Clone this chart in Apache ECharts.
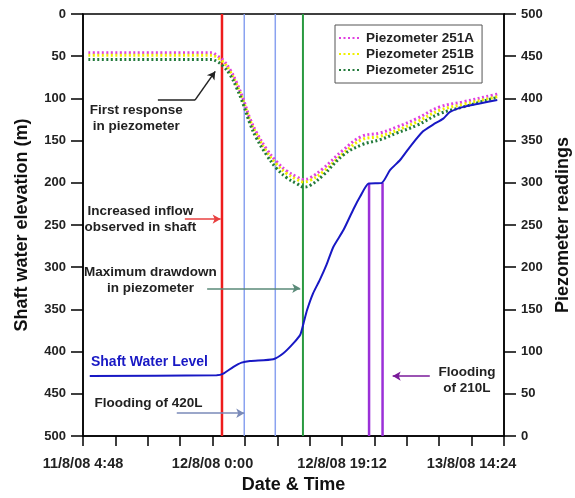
<!DOCTYPE html>
<html>
<head>
<meta charset="utf-8">
<script src="https://cdn.jsdelivr.net/npm/echarts@6/dist/echarts.min.js"></script>
<style>
  html, body { margin: 0; padding: 0; background: #fff; }
  #chart { width: 575px; height: 498px; }
</style>
</head>
<body>
<div id="chart"></div>
<script>
// x values are hours after 11/8/08 0:00
var xMin = 4.8, xMax = 67.2, xStep = 4.8;
var tickLabels = ['11/8/08 4:48', '12/8/08 0:00', '12/8/08 19:12', '13/8/08 14:24'];

// piezometer readings (right axis)
var piezoHours = [5.6, 23.9, 24.6, 25.6, 26.6, 27.6, 28.6, 29.55, 30.5, 32.0, 33.5, 35.0, 36.5, 37.5, 38.5, 40.4, 43.4, 46.1, 48.8, 51.3, 54.25, 57.7, 61.2, 65.6, 66.2];
var piezo251A = [454, 454, 451, 445, 434, 418, 398, 376, 360, 340, 325, 314, 307, 304, 306, 317, 339, 355, 359, 366, 376, 390, 396, 404, 405];
var piezo251B = [451, 451, 449, 443, 432, 416, 396, 374, 358, 337, 322, 311, 304, 301, 303, 313, 335, 351, 355, 362, 372, 386, 393, 401, 402];
var piezo251C = [446, 446, 444, 438, 428, 412, 392, 370, 353, 333, 317, 306, 299, 295, 297, 309, 333, 345, 351, 359, 368, 382, 390, 400, 401];

// shaft water level (left axis, m)
var shaftHours = [5.8, 24.6, 25.6, 27.1, 28.3, 29.55, 33.0, 34.5, 36.0, 37.0, 37.5, 38.0, 38.9, 39.9, 40.9, 41.9, 43.4, 44.9, 45.9, 47.1, 49.1, 50.3, 51.8, 53.3, 55.2, 56.7, 58.2, 59.2, 61.2, 63.6, 66.2];
var shaftLevel = [429, 428, 426, 418, 413, 411, 409, 402, 390, 380, 366, 351, 331, 315, 297, 276, 256, 231, 216, 201, 200, 185, 173, 157, 139, 131, 124, 116, 110, 106, 102];

// event times (hours)
var eventNames = ['inflow', 'flood420a', 'flood420b', 'maxDrawdown'];
var eventHours = [25.4, 28.7, 33.3, 37.4];
var eventColors = ['#ee1c1c', '#8aa2f0', '#8aa2f0', '#2a9a40'];
var eventWidths = [2.5, 1.5, 1.5, 2];
var floodHours210 = [47.2, 49.2];
var floodTop210 = 200;

var chart = echarts.init(document.getElementById('chart'));

var series = [];
eventHours.forEach(function (h, i) {
  series.push({
    name: eventNames[i], type: 'line', yAxisIndex: 0, symbol: 'none', silent: true,
    data: [[h, 0], [h, 500]],
    lineStyle: { color: eventColors[i], width: eventWidths[i] }, z: 1
  });
});
floodHours210.forEach(function (h, i) {
  series.push({
    name: 'flood210_' + i, type: 'line', yAxisIndex: 0, symbol: 'none', silent: true,
    data: [[h, 500], [h, floodTop210]],
    lineStyle: { color: '#9b30d8', width: 2.5 }, z: 1
  });
});

function zip(xs, ys) { return xs.map(function (x, i) { return [x, ys[i]]; }); }

var piezoNames = ['Piezometer 251A', 'Piezometer 251B', 'Piezometer 251C'];
var piezoData = [piezo251A, piezo251B, piezo251C];
var piezoColors = ['#e040e0', '#f0f000', '#237a3c'];
piezoData.forEach(function (d, i) {
  series.push({
    name: piezoNames[i], type: 'line', yAxisIndex: 1, symbol: 'none', smooth: 0.4,
    data: zip(piezoHours, d),
    itemStyle: { color: piezoColors[i] },
    lineStyle: { color: piezoColors[i], width: 3, type: [2, 2.5] }, z: 3
  });
});

var labelFont = { fontFamily: 'Liberation Sans, Arial', fontWeight: 'bold', fontSize: 13.5, color: '#222', lineHeight: 16 };

function note(text, coord, extra) {
  var lbl = Object.assign({ show: true, formatter: text, position: 'inside', align: 'center' }, labelFont, extra || {});
  return { coord: coord, symbol: 'circle', symbolSize: 0.1, label: lbl, itemStyle: { color: 'transparent' } };
}

function arrow(p1, p2, color, head) {
  return [
    { coord: p1, symbol: 'none', lineStyle: { color: color, width: 1.5, type: 'solid' } },
    { coord: p2, symbol: head ? 'arrow' : 'none', symbolSize: [7, 8] }
  ];
}

series.push({
  name: 'Shaft Water Level', type: 'line', yAxisIndex: 0, symbol: 'none', smooth: 0.2,
  data: zip(shaftHours, shaftLevel),
  lineStyle: { color: '#1818c4', width: 2 }, itemStyle: { color: '#1818c4' }, z: 4,
  markPoint: {
    silent: true,
    data: [
      note('First response\nin piezometer', [12.7, 123]),
      note('Increased inflow\nobserved in shaft', [13.3, 243]),
      note('Maximum drawdown\nin piezometer', [14.8, 316]),
      note('Shaft Water Level', [14.65, 413], { color: '#1818c4', fontSize: 14 }),
      note('Flooding of 420L', [14.5, 461]),
      note('Flooding\nof 210L', [61.7, 434])
    ]
  },
  markLine: {
    silent: true,
    symbol: ['none', 'arrow'],
    label: { show: false },
    data: [
      arrow([15.9, 102], [21.4, 102], '#222', false),
      arrow([21.4, 102], [24.4, 68], '#222', true),
      arrow([19.9, 243], [25.2, 243], '#e84040', true),
      arrow([23.2, 325], [37.0, 325], '#5a8a78', true),
      arrow([18.7, 473], [28.7, 473], '#7a8ab8', true),
      arrow([56.2, 429], [50.7, 429], '#7a1a9a', true)
    ]
  }
});

var axisFont = { fontFamily: 'Liberation Sans, Arial', fontWeight: 'bold', fontSize: 13, color: '#222' };
var nameFont = { fontFamily: 'Liberation Sans, Arial', fontWeight: 'bold', fontSize: 18, color: '#111' };

var option = {
  animation: false,
  grid: { left: 83, right: 71, top: 14, bottom: 62, show: true, borderColor: '#000', borderWidth: 1.5, containLabel: false, outerBoundsMode: 'none' },
  legend: {
    data: piezoNames,
    orient: 'vertical', left: 335, top: 25,
    itemWidth: 22, itemHeight: 10, itemGap: 2,
    padding: [6, 8, 6, 3],
    borderColor: '#555', borderWidth: 1, backgroundColor: '#fff',
    itemStyle: { opacity: 0 },
    textStyle: Object.assign({}, axisFont, { fontSize: 13.5 })
  },
  xAxis: {
    type: 'value', min: xMin, max: xMax, interval: xStep, position: 'bottom',
    name: 'Date & Time', nameLocation: 'middle', nameGap: 40, nameTextStyle: nameFont,
    axisLine: { onZero: false, lineStyle: { color: '#000', width: 1.5 } },
    axisTick: { length: 10, lineStyle: { color: '#000', width: 1.5 } },
    splitLine: { show: false },
    axisLabel: Object.assign({
      margin: 20, showMinLabel: true, showMaxLabel: true,
      formatter: function (v) {
        var i = Math.round((v - xMin) / xStep);
        if (i % 4 === 0 && i / 4 < tickLabels.length) return tickLabels[i / 4];
        return '';
      }
    }, axisFont, { fontSize: 14.5 })
  },
  yAxis: [{
    type: 'value', min: 0, max: 500, interval: 50, inverse: true,
    name: 'Shaft water elevation (m)', nameLocation: 'middle', nameGap: 52, nameTextStyle: nameFont,
    axisLine: { show: true, onZero: false, lineStyle: { color: '#000', width: 1.5 } },
    axisTick: { show: true, length: 12, lineStyle: { color: '#000', width: 1.5 } },
    splitLine: { show: false },
    axisLabel: Object.assign({ margin: 17 }, axisFont)
  }, {
    type: 'value', min: 0, max: 500, interval: 50, position: 'right',
    name: 'Piezometer readings', nameLocation: 'middle', nameGap: 50, nameRotate: 90, nameTextStyle: nameFont,
    axisLine: { show: true, onZero: false, lineStyle: { color: '#000', width: 1.5 } },
    axisTick: { show: true, length: 12, lineStyle: { color: '#000', width: 1.5 } },
    splitLine: { show: false },
    axisLabel: Object.assign({ margin: 17 }, axisFont)
  }],
  series: series
};

chart.setOption(option);
</script>
</body>
</html>
